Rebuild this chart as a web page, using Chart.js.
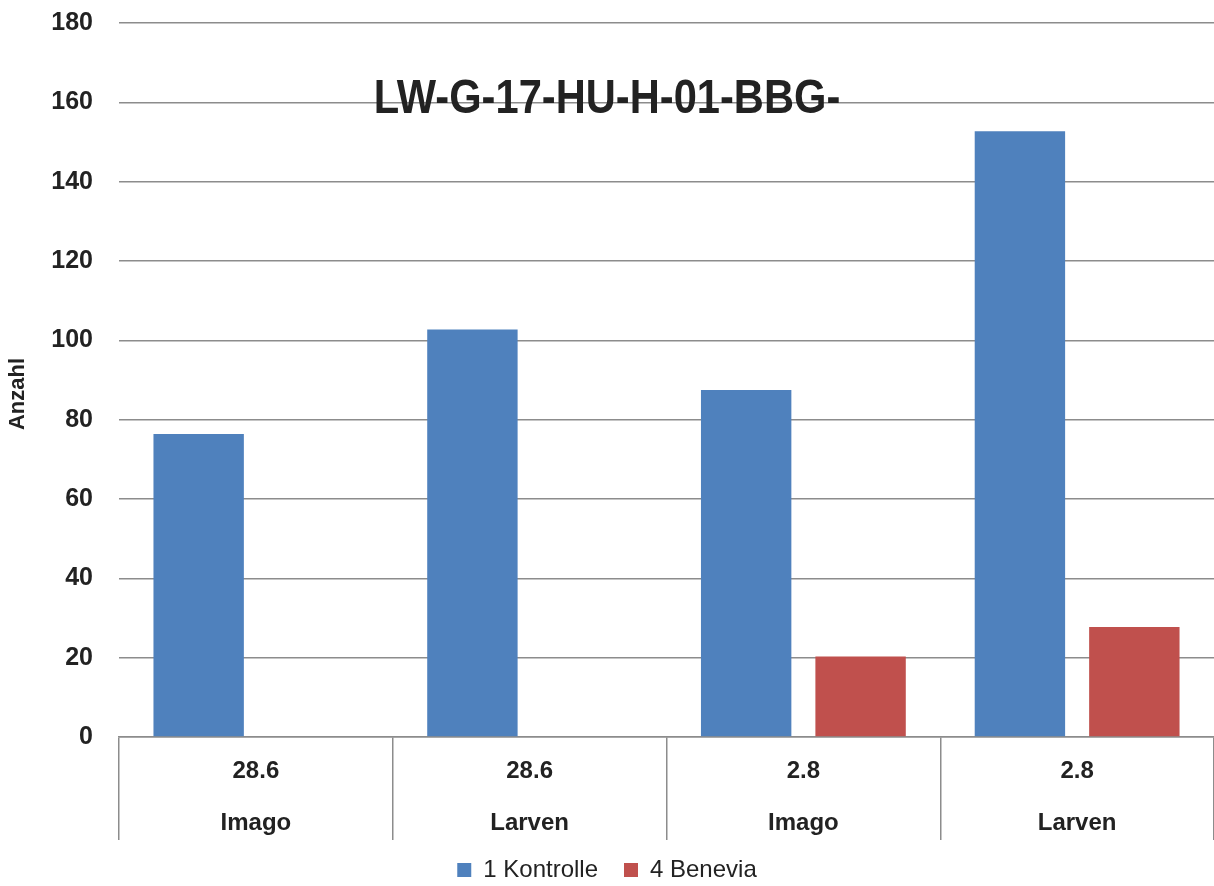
<!DOCTYPE html>
<html>
<head>
<meta charset="utf-8">
<script src="https://cdn.jsdelivr.net/npm/chart.js@4"></script>
<style>
  html, body { margin: 0; padding: 0; background: #ffffff; }
  #wrap { width: 1214px; height: 886px; position: relative; }
</style>
</head>
<body>
<div id="wrap"><canvas id="c"></canvas></div>
<script>
// Boniturdaten: Anzahl Tiere je Termin und Stadium
const dates = ['28.6', '28.6', '2.8', '2.8'];
const stages = ['Imago', 'Larven', 'Imago', 'Larven'];
const kontrolle = [76.4, 102.7, 87.5, 152.7];
const benevia = [0, 0, 20.3, 27.7];
const seriesNames = ['1 Kontrolle', '4 Benevia'];
const yTicks = [0, 20, 40, 60, 80, 100, 120, 140, 160, 180];
const chartTitle = 'LW-G-17-HU-H-01-BBG-';

const labels = dates.map((d, i) => [d, stages[i]]);
const GRID = '#8c8c8c';
const TEXT = '#222222';
const SANS = '"Liberation Sans", Arial, sans-serif';
const LEGEND_HEIGHT = 30;
const XAXIS_HEIGHT = 119;

// Überschrift mitten in der Zeichenfläche, schmal gesetzt
const titlePlugin = {
  id: 'innerTitle',
  afterDraw(chart) {
    const ctx = chart.ctx;
    ctx.save();
    ctx.font = 'bold 49px ' + SANS;
    ctx.fillStyle = TEXT;
    ctx.textAlign = 'center';
    ctx.textBaseline = 'alphabetic';
    ctx.translate(607, 113);
    ctx.scale(0.85, 1);
    ctx.fillText(chartTitle, 0, 0);
    ctx.restore();
  }
};

// feste Höhe für die Legende unten
const legendHeightPlugin = {
  id: 'legendHeight',
  beforeInit(chart) {
    const lg = chart.legend;
    if (!lg) return;
    const fit = lg.fit;
    lg.fit = function () {
      fit.call(this);
      this.height = LEGEND_HEIGHT;
    };
  }
};

new Chart(document.getElementById('c'), {
  type: 'bar',
  data: {
    labels: labels,
    datasets: [
      { label: seriesNames[0], data: kontrolle, backgroundColor: '#4f81bd', borderWidth: 0 },
      { label: seriesNames[1], data: benevia, backgroundColor: '#c0504d', borderWidth: 0 }
    ]
  },
  options: {
    responsive: true,
    maintainAspectRatio: false,
    animation: false,
    categoryPercentage: 0.836,
    barPercentage: 0.79,
    layout: { padding: { top: 23, right: 0, bottom: 0, left: 0 } },
    plugins: {
      title: { display: false },
      tooltip: { enabled: false },
      legend: {
        position: 'bottom',
        labels: {
          boxWidth: 14,
          boxHeight: 14,
          padding: 2,
          color: TEXT,
          font: { family: SANS, size: 24, lineHeight: 1.0 },
          // etwas mehr Abstand zwischen den Legendeneinträgen
          generateLabels(chart) {
            const items = Chart.defaults.plugins.legend.labels.generateLabels(chart);
            items.forEach((it, i) => {
              it.lineWidth = 0;
              if (i < items.length - 1) it.text = it.text + '\u2002\u2002';
            });
            return items;
          }
        }
      }
    },
    scales: {
      x: {
        grid: {
          offset: true,
          drawOnChartArea: false,
          drawTicks: true,
          tickLength: 103,
          color: GRID,
          lineWidth: 1.5
        },
        border: { display: true, color: GRID, width: 1.5 },
        ticks: {
          padding: -94,
          color: TEXT,
          maxRotation: 0,
          autoSkip: false,
          font: { family: SANS, size: 24, weight: 'bold', lineHeight: 2.15 }
        },
        afterFit(scale) { scale.height = XAXIS_HEIGHT; }
      },
      y: {
        min: 0,
        max: 180,
        afterBuildTicks(scale) { scale.ticks = yTicks.map(v => ({ value: v })); },
        grid: { drawTicks: false, color: GRID, lineWidth: 1.5 },
        border: { display: false },
        ticks: {
          padding: 26,
          color: TEXT,
          font: { family: SANS, size: 25, weight: 'bold' }
        },
        title: {
          display: true,
          text: 'Anzahl\u2002\u2002 ',
          color: TEXT,
          padding: { top: 5, bottom: 0 },
          font: { family: SANS, size: 22, weight: 'bold' }
        },
        afterFit(scale) {
          scale.width = 119;
          scale.paddingTop = 0;
          scale.paddingBottom = 0;
        }
      }
    }
  },
  plugins: [titlePlugin, legendHeightPlugin]
});
</script>
</body>
</html>
